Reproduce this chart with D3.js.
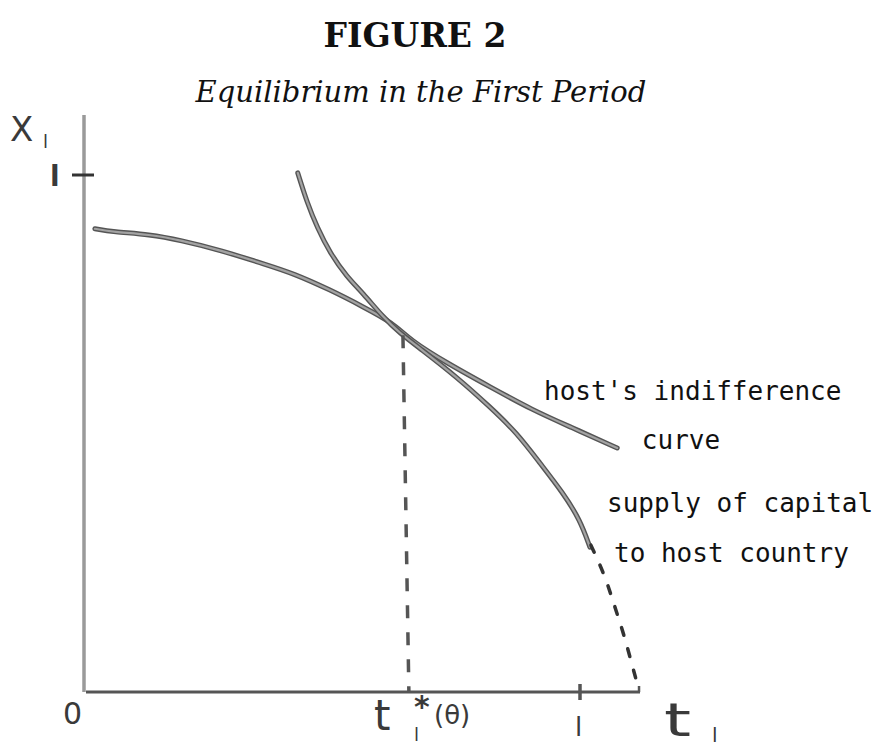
<!DOCTYPE html>
<meta charset="utf-8">
<style>
body { margin: 0; background: #fff; }
.title { font: bold 33px "DejaVu Serif", serif; text-anchor: middle; fill: #111; }
.subtitle { font: italic 29px "DejaVu Serif", serif; text-anchor: middle; fill: #111; }
.note { font: 26px "DejaVu Sans Mono", monospace; fill: #111; }
.hand { font-family: "DejaVu Sans", sans-serif; fill: #3a3a3a; }
</style>
<body>
<script src="https://cdn.jsdelivr.net/npm/d3@7"></script>
<script>

// host's indifference curve (t1, X1)
var indiffT = [0.022, 0.058, 0.133, 0.194, 0.274, 0.369, 0.421, 0.496, 0.563, 0.623, 0.657, 0.732, 0.819, 0.905, 0.980, 1.075];
var indiffX = [0.896, 0.890, 0.885, 0.874, 0.855, 0.826, 0.810, 0.778, 0.745, 0.714, 0.681, 0.636, 0.590, 0.545, 0.513, 0.472];

// supply of capital to host country, solid part
var supplyT = [0.431, 0.450, 0.470, 0.496, 0.530, 0.562, 0.603, 0.637, 0.677, 0.752, 0.819, 0.873, 0.919, 0.966, 1.000, 1.020];
var supplyX = [1.004, 0.946, 0.899, 0.849, 0.803, 0.772, 0.725, 0.694, 0.665, 0.609, 0.551, 0.501, 0.443, 0.385, 0.333, 0.280];

// supply of capital, dashed continuation down to the t1 axis
var supplyDashT = [1.022, 1.050, 1.069, 1.089, 1.105, 1.119];
var supplyDashX = [0.284, 0.226, 0.168, 0.110, 0.052, 0.004];

// drop line from the equilibrium to t1*(θ)
var eqT = [0.643, 0.655];
var eqX = [0.690, 0.0];

var width = 880, height = 750;

var x = d3.scaleLinear().domain([0, 1]).range([84, 580]);
var y = d3.scaleLinear().domain([0, 1]).range([692, 175]);

var svg = d3.select("body").append("svg")
    .attr("width", width)
    .attr("height", height);

svg.append("text").attr("class", "title")
    .attr("x", 415).attr("y", 47).text("FIGURE 2");
svg.append("text").attr("class", "subtitle")
    .attr("x", 421).attr("y", 102).text("Equilibrium in the First Period");

function pts(ts, xs) { return ts.map(function(t, i) { return [t, xs[i]]; }); }

var line = d3.line()
    .x(function(d) { return x(d[0]); })
    .y(function(d) { return y(d[1]); })
    .curve(d3.curveBasis);

// axes
svg.append("line")
    .attr("x1", x(0)).attr("x2", x(0))
    .attr("y1", y(0)).attr("y2", y(1.116))
    .attr("stroke", "#9a9a9a").attr("stroke-width", 3.5);
svg.append("line")
    .attr("x1", x(0) + 2).attr("x2", x(1.121))
    .attr("y1", y(0)).attr("y2", y(0))
    .attr("stroke", "#555").attr("stroke-width", 3);

// ticks at 1 and at the end of the t1 axis
svg.append("line")
    .attr("x1", x(0) - 12).attr("x2", x(0) + 10)
    .attr("y1", y(1)).attr("y2", y(1))
    .attr("stroke", "#333").attr("stroke-width", 3);
svg.append("line")
    .attr("x1", x(1)).attr("x2", x(1))
    .attr("y1", y(0) - 8).attr("y2", y(0) + 8)
    .attr("stroke", "#555").attr("stroke-width", 3.5);
svg.append("line")
    .attr("x1", x(1.119)).attr("x2", x(1.119))
    .attr("y1", y(0) - 6).attr("y2", y(0))
    .attr("stroke", "#555").attr("stroke-width", 2.5);

// curves, drawn as a dark outline with a grey core
[pts(indiffT, indiffX), pts(supplyT, supplyX)].forEach(function(p) {
  svg.append("path").attr("d", line(p))
      .attr("fill", "none").attr("stroke", "#555").attr("stroke-width", 5)
      .attr("stroke-linecap", "round");
  svg.append("path").attr("d", line(p))
      .attr("fill", "none").attr("stroke", "#a3a3a3").attr("stroke-width", 2.2)
      .attr("stroke-linecap", "round");
});

svg.append("path").attr("d", line(pts(supplyDashT, supplyDashX)))
    .attr("fill", "none").attr("stroke", "#333").attr("stroke-width", 3.5)
    .attr("stroke-linecap", "round")
    .attr("stroke-dasharray", "8,14");

svg.append("path").attr("d", line(pts(eqT, eqX)))
    .attr("fill", "none").attr("stroke", "#555").attr("stroke-width", 3.5)
    .attr("stroke-dasharray", "13,14");

// hand-lettered labels
svg.append("text").attr("class", "hand")
    .attr("x", 10).attr("y", 141).style("font-size", "34px").text("X");
svg.append("text").attr("class", "hand")
    .attr("x", 43).attr("y", 148).style("font-size", "18px").text("l");
svg.append("text").attr("class", "hand")
    .attr("x", 50).attr("y", y(1) + 11).style("font-size", "28px").style("font-weight", "bold").text("l");
svg.append("text").attr("class", "hand")
    .attr("x", 63).attr("y", 724).style("font-size", "30px").text("0");
svg.append("text").attr("class", "hand")
    .attr("x", 374).attr("y", 730).style("font-size", "42px").text("t");
svg.append("text").attr("class", "hand")
    .attr("x", 414).attr("y", 741).style("font-size", "18px").text("l");
svg.append("text").attr("class", "hand")
    .attr("x", 414).attr("y", 717).style("font-size", "30px").style("font-weight", "bold").text("*");
svg.append("text").attr("class", "hand")
    .attr("x", 434).attr("y", 724).style("font-size", "26px").text("(θ)");
svg.append("text").attr("class", "hand")
    .attr("x", x(1) - 5).attr("y", 736).style("font-size", "26px").text("l");
svg.append("text").attr("class", "hand")
    .attr("transform", "translate(664,736) scale(1.5,1)")
    .style("font-size", "46px").text("t");
svg.append("text").attr("class", "hand")
    .attr("x", 712).attr("y", 742).style("font-size", "20px").text("l");

// typed notes
svg.append("text").attr("class", "note").attr("x", 544).attr("y", 400).text("host's indifference");
svg.append("text").attr("class", "note").attr("x", 681).attr("y", 449)
    .style("text-anchor", "middle").text("curve");
svg.append("text").attr("class", "note").attr("x", 607).attr("y", 512).text("supply of capital");
svg.append("text").attr("class", "note").attr("x", 614).attr("y", 562).text("to host country");

</script>
</body>
